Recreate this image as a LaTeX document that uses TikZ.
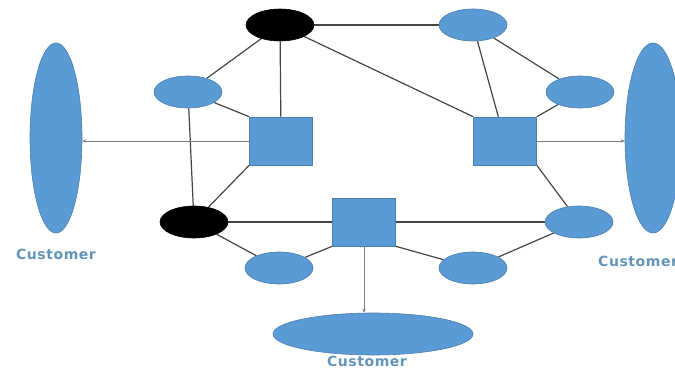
\documentclass[tikz,border=0pt]{standalone}
\usepackage{fontspec}
\usetikzlibrary{shapes.geometric,arrows.meta,backgrounds}
\newfontfamily\labelfont[LetterSpace=4]{DejaVu Sans}
\definecolor{nodeblue}{HTML}{5B9BD5}
\definecolor{nodeedge}{HTML}{4A7EAD}
\definecolor{linkgray}{HTML}{454545}
\definecolor{flowgray}{HTML}{7F7F7F}
\definecolor{labelblue}{RGB}{98,148,186}
\tikzset{
  site/.style={ellipse, draw=nodeedge, fill=nodeblue, line width=0.6pt,
               minimum width=68pt, minimum height=32pt, inner sep=0pt},
  hub/.style={ellipse, draw=black, fill=black, line width=0.6pt,
              minimum width=68pt, minimum height=32pt, inner sep=0pt},
  store/.style={rectangle, draw=nodeedge, fill=nodeblue, line width=0.6pt,
                minimum width=63pt, minimum height=48pt, inner sep=0pt},
  client/.style={ellipse, draw=nodeedge, fill=nodeblue, line width=0.6pt, inner sep=0pt},
  link/.style={draw=linkgray, line width=1.2pt},
  flow/.style={draw=flowgray, line width=1pt, -{Stealth[length=4pt,width=3.5pt]}},
  clientlabel/.style={text=labelblue, font=\labelfont\bfseries\fontsize{14}{14}\selectfont, inner sep=0pt}
}
\begin{document}
\begin{tikzpicture}[x=1pt,y=-1pt]
\useasboundingbox (0,0) rectangle (675,369);

% customers
\node[client, minimum width=52pt, minimum height=190pt] (lcust) at (56,138) {};
\node[client, minimum width=56pt, minimum height=190pt] (rcust) at (653,138) {};
\node[client, minimum width=200pt, minimum height=42pt] (bcust) at (373,334) {};

% hubs, sites and stores
\node[hub]   (htop) at (280,25) {};
\node[hub]   (hbot) at (194,222) {};
\node[site]  (sa)   at (188,92) {};
\node[site]  (sb)   at (473,25) {};
\node[site]  (sc)   at (580,92) {};
\node[site]  (sd)   at (279,268) {};
\node[site]  (se)   at (473,268) {};
\node[site]  (sf)   at (579,222) {};
\node[store] (wl)   at (281,141) {};
\node[store] (wr)   at (505,141) {};
\node[store] (wc)   at (364,222) {};

\begin{scope}[on background layer]
\path[link] (htop) -- (sb);
\path[link] (htop) -- (wr.north west);
\path[link] (htop) -- (sa);
\path[link] (htop) -- (wl);
\path[link] (sa) -- (wl.north west);
\path[link] (sa) -- (hbot);
\path[link] (wl.south west) -- (hbot);
\path[link] (hbot) -- (wc);
\path[link] (hbot) -- (sd);
\path[link] (sd) -- (wc.south west);
\path[link] (wc) -- (sf);
\path[link] (wc.south east) -- (se);
\path[link] (se) -- (sf);
\path[link] (wr.south east) -- (sf);
\path[link] (sb) -- (wr);
\path[link] (sb) -- (sc);
\path[link] (sc) -- (wr.north east);
\end{scope}

% deliveries to customers
\path[flow] (wl.west) -- (lcust.east |- wl.west);
\path[flow] (wr.east) -- (rcust.west |- wr.east);
\path[flow] (wc.south) -- (bcust.north -| wc.south);

% labels
\node[clientlabel] (llab) at (56,254) {Customer};
\node[clientlabel, anchor=west] (rlab) at (598,261) {Customer};
\node[clientlabel] (blab) at (367,361) {Customer};
\end{tikzpicture}
\end{document}
